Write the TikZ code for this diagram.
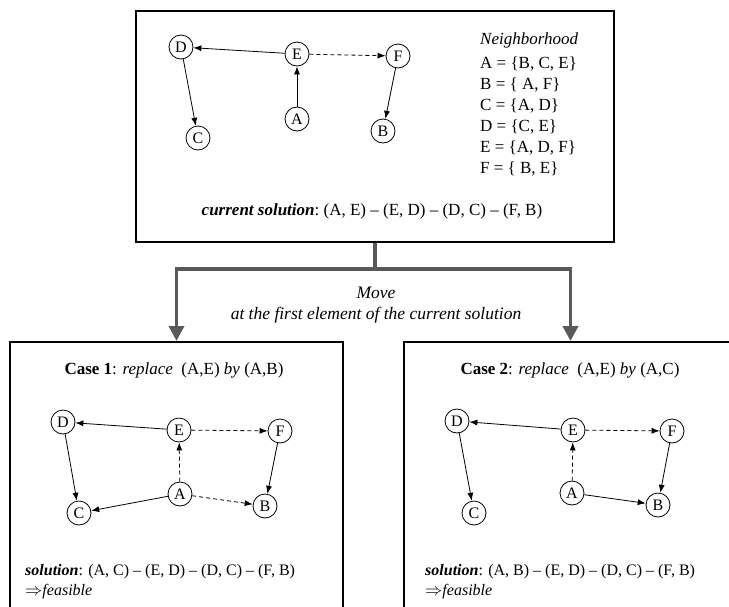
\documentclass[tikz,border=0pt]{standalone}
\usepackage{fontspec}
\setmainfont{Liberation Serif}
\usetikzlibrary{arrows.meta}
\definecolor{connGray}{RGB}{89,89,89}
\begin{document}
\begin{tikzpicture}[x=1pt,y=-1pt,
  every node/.style={font=\fontsize{16}{19}\selectfont, inner sep=0pt},
  vtx/.style={circle, draw, line width=0.8pt, minimum size=24pt, inner sep=0pt},
  edge/.style={-{Latex[length=8pt,width=6pt]}, line width=0.8pt},
  dashedge/.style={edge, dash pattern=on 4pt off 3pt},
  box/.style={draw, line width=2pt, rectangle, inner sep=0pt},
  conn/.style={line width=3.5pt, draw=connGray},
  connarrow/.style={conn, -{Triangle[length=15pt,width=15pt]}},
  txt/.style={anchor=base west},
  ctxt/.style={anchor=base},
  bigtxt/.style={font=\fontsize{17}{20}\selectfont}
]
\useasboundingbox (0,0) rectangle (729,606);
\clip (0,0) rectangle (729,606);

% boxes
\node[box, minimum width=478pt, minimum height=231pt] (top) at (375,126.5) {};
\node[box, minimum width=333pt, minimum height=290pt] (case1) at (176.5,487) {};
\node[box, minimum width=333pt, minimum height=290pt] (case2) at (570.5,487) {};

% connector
\draw[conn] (top.south) -- ++(0,26) coordinate (j);
\draw[connarrow] (j) -| (case1.north);
\draw[connarrow] (j) -| (case2.north);
\node[ctxt, font=\fontsize{17.5}{20}\selectfont] (move1) at (376,298) {\itshape Move};
\node[ctxt, font=\fontsize{17.5}{20}\selectfont] (move2) at (376,319) {\itshape at the first element of the current solution};

% top graph
\node[vtx] (tD) at (181,47) {D};
\node[vtx] (tE) at (297,54) {E};
\node[vtx] (tF) at (398,56) {F};
\node[vtx] (tA) at (297,119) {A};
\node[vtx] (tC) at (198,138) {C};
\node[vtx] (tB) at (383,131) {B};
\draw[edge] (tE) -- (tD);
\draw[dashedge] (tE) -- (tF);
\draw[edge] (tA) -- (tE);
\draw[edge] (tD) -- (tC);
\draw[edge] (tF) -- (tB);

% neighborhood
\node[txt, bigtxt] (nh) at (480,44) {\itshape Neighborhood};
\node[txt, bigtxt] (nA) at (480,68.5) {A = \{B, C, E\}};
\node[txt, bigtxt] (nB) at (480,89) {B = \{ A, F\}};
\node[txt, bigtxt] (nC) at (480,110) {C = \{A, D\}};
\node[txt, bigtxt] (nD) at (480,131) {D = \{C, E\}};
\node[txt, bigtxt] (nE) at (480,152) {E = \{A, D, F\}};
\node[txt, bigtxt] (nF) at (480,173) {F = \{ B, E\}};

\node[ctxt, bigtxt] (cur) at (372,215) {\textbf{\textit{current solution}}:\ (A, E) -- (E, D) -- (D, C) -- (F, B)};

% case 1
\node[ctxt, bigtxt] (t1) at (174,374) {\textbf{Case 1}: \textit{replace}\ \ (A,E) \textit{by} (A,B)};
\node[vtx] (aD) at (63,422) {D};
\node[vtx] (aE) at (179,430) {E};
\node[vtx] (aF) at (280,431) {F};
\node[vtx] (aA) at (180,494) {A};
\node[vtx] (aC) at (79,513) {C};
\node[vtx] (aB) at (265,506) {B};
\draw[edge] (aE) -- (aD);
\draw[dashedge] (aE) -- (aF);
\draw[dashedge] (aA) -- (aE);
\draw[edge] (aD) -- (aC);
\draw[edge] (aF) -- (aB);
\draw[edge] (aA) -- (aC);
\draw[dashedge] (aA) -- (aB);
\node[txt] (s1) at (25,575) {\textbf{\textit{solution}}: (A, C) -- (E, D) -- (D, C) -- (F, B)};
\node[txt] (f1) at (25,595) {$\Rightarrow$\textit{feasible}};

% case 2
\node[ctxt, bigtxt] (t2) at (570,374) {\textbf{Case 2}: \textit{replace}\ \ (A,E) \textit{by} (A,C)};
\node[vtx] (bD) at (457,421) {D};
\node[vtx] (bE) at (573,430) {E};
\node[vtx] (bF) at (672,431) {F};
\node[vtx] (bA) at (572,493) {A};
\node[vtx] (bC) at (474,513) {C};
\node[vtx] (bB) at (658,505) {B};
\draw[edge] (bE) -- (bD);
\draw[dashedge] (bE) -- (bF);
\draw[dashedge] (bA) -- (bE);
\draw[edge] (bD) -- (bC);
\draw[edge] (bF) -- (bB);
\draw[edge] (bA) -- (bB);
\node[txt] (s2) at (425,575) {\textbf{\textit{solution}}: (A, B) -- (E, D) -- (D, C) -- (F, B)};
\node[txt] (f2) at (425,595) {$\Rightarrow$\textit{feasible}};
\end{tikzpicture}
\end{document}
